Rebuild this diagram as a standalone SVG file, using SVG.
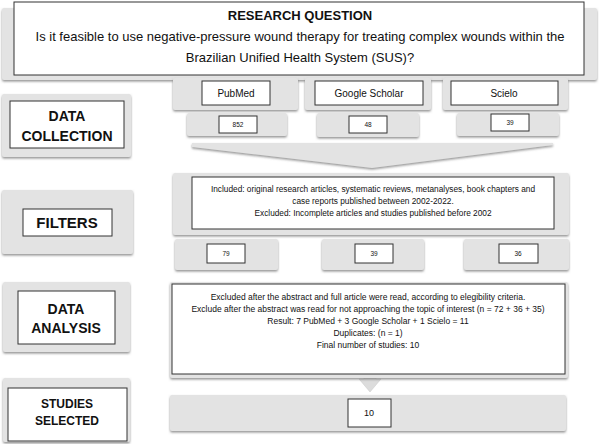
<svg xmlns="http://www.w3.org/2000/svg" width="600" height="444" viewBox="0 0 600 444">
<defs>
<filter id="sh" x="-5%" y="-10%" width="110%" height="130%">
<feDropShadow dx="0" dy="1.5" stdDeviation="1" flood-color="#777" flood-opacity="0.8"/>
</filter>
<style>
.bg{fill:#e3e3e3;filter:url(#sh)}
.wb{fill:#fff;stroke:#333;stroke-width:1}
.t{font-family:"Liberation Sans",Arial,sans-serif;fill:#111;text-anchor:middle}
.b{font-weight:bold}
</style>
</defs>
<rect width="600" height="444" fill="#fff"/>

<g id="question">
<rect class="bg" x="2" y="8" width="595" height="72" rx="2"/>
<rect class="wb" x="14" y="2" width="570" height="73"/>
<text class="t b" x="300" y="20" font-size="13">RESEARCH QUESTION</text>
<text class="t" x="300" y="41" font-size="13">Is it feasible to use negative-pressure wound therapy for treating complex wounds within the</text>
<text class="t" x="300" y="62" font-size="13">Brazilian Unified Health System (SUS)?</text>
</g>

<g id="data-collection">
<rect class="bg" x="2" y="94" width="129" height="63" rx="2"/>
<rect class="wb" x="10" y="101" width="114" height="47"/>
<text class="t b" x="67" y="121" font-size="14">DATA</text>
<text class="t b" x="67" y="141" font-size="14">COLLECTION</text>
</g>

<g id="pubmed">
<rect class="bg" x="173" y="78" width="125" height="32" rx="2"/>
<rect class="wb" x="202" y="81" width="68" height="24"/>
<text class="t" x="236" y="97" font-size="10">PubMed</text>
</g>
<g id="pubmed-n">
<rect class="bg" x="187" y="113" width="100" height="23" rx="2"/>
<rect class="wb" x="219" y="116" width="38" height="17"/>
<text class="t" x="238" y="127" font-size="6.5">852</text>
</g>
<g id="scholar">
<rect class="bg" x="305" y="78" width="126" height="32" rx="2"/>
<rect class="wb" x="315" y="81" width="108" height="24"/>
<text class="t" x="369" y="97" font-size="10">Google Scholar</text>
</g>
<g id="scholar-n">
<rect class="bg" x="317" y="113" width="102" height="24" rx="2"/>
<rect class="wb" x="349" y="116" width="38" height="17"/>
<text class="t" x="368" y="127" font-size="6.5">48</text>
</g>
<g id="scielo">
<rect class="bg" x="443" y="78" width="125" height="32" rx="2"/>
<rect class="wb" x="451" y="81" width="107" height="24"/>
<text class="t" x="504" y="97" font-size="10">Scielo</text>
</g>
<g id="scielo-n">
<rect class="bg" x="457" y="113" width="102" height="23" rx="2"/>
<rect class="wb" x="491" y="114" width="38" height="17"/>
<text class="t" x="510" y="125" font-size="6.5">39</text>
</g>

<g id="connectors">
<polygon class="bg" points="192,143 553,143 553,145 372,168 192,147"/>
<polygon fill="#dcdcdc" stroke="#c8c8c8" stroke-width="0.5" points="364,375 376,375 376,379 381,379 370,392 359,379 364,379"/>
</g>

<g id="filters">
<rect class="bg" x="2" y="190" width="131" height="64" rx="2"/>
<rect class="wb" x="23" y="209" width="89" height="27"/>
<text class="t b" x="67" y="228" font-size="15">FILTERS</text>
</g>
<g id="filter-criteria">
<rect class="bg" x="173" y="173" width="396" height="62" rx="2"/>
<rect class="wb" x="192" y="177" width="362" height="52"/>
<text class="t" x="373" y="192" font-size="8.3">Included: original research articles, systematic reviews, metanalyses, book chapters and</text>
<text class="t" x="373" y="204" font-size="8.3">case reports published between 2002-2022.</text>
<text class="t" x="373" y="216" font-size="8.3">Excluded: Incomplete articles and studies published before 2002</text>
</g>
<g id="f79">
<rect class="bg" x="175" y="239" width="103" height="31" rx="2"/>
<rect class="wb" x="207" y="244" width="38" height="19"/>
<text class="t" x="226" y="256" font-size="6.5">79</text>
</g>
<g id="f39">
<rect class="bg" x="322" y="239" width="102" height="31" rx="2"/>
<rect class="wb" x="355" y="244" width="38" height="19"/>
<text class="t" x="374" y="256" font-size="6.5">39</text>
</g>
<g id="f36">
<rect class="bg" x="464" y="239" width="105" height="31" rx="2"/>
<rect class="wb" x="499" y="244" width="39" height="19"/>
<text class="t" x="518" y="256" font-size="6.5">36</text>
</g>

<g id="data-analysis">
<rect class="bg" x="3" y="282" width="127" height="70" rx="2"/>
<rect class="wb" x="18" y="291" width="97" height="53"/>
<text class="t b" x="66" y="314" font-size="14">DATA</text>
<text class="t b" x="66" y="333" font-size="14">ANALYSIS</text>
</g>
<g id="analysis-details">
<rect class="bg" x="170" y="282" width="398" height="96" rx="2"/>
<rect class="wb" x="172" y="284" width="393" height="90"/>
<text class="t" x="368" y="300" font-size="8.5">Excluded after the abstract and full article were read, according to elegibility criteria.</text>
<text class="t" x="368" y="312" font-size="8.5">Exclude after the abstract was read for not approaching the topic of interest (n = 72 + 36 + 35)</text>
<text class="t" x="368" y="324" font-size="8.5">Result: 7 PubMed + 3 Google Scholar + 1 Scielo = 11</text>
<text class="t" x="368" y="336" font-size="8.5">Duplicates: (n = 1)</text>
<text class="t" x="368" y="348" font-size="8.5">Final number of studies: 10</text>
</g>

<g id="studies-selected">
<rect class="bg" x="3" y="378" width="127" height="64" rx="2"/>
<rect class="wb" x="8" y="388" width="119" height="53"/>
<text class="t b" x="67" y="408" font-size="12">STUDIES</text>
<text class="t b" x="67" y="425" font-size="12">SELECTED</text>
</g>
<g id="final-count">
<rect class="bg" x="170" y="395" width="396" height="36" rx="2"/>
<rect class="wb" x="348" y="399" width="43" height="28"/>
<text class="t" x="369" y="416" font-size="9">10</text>
</g>
</svg>
